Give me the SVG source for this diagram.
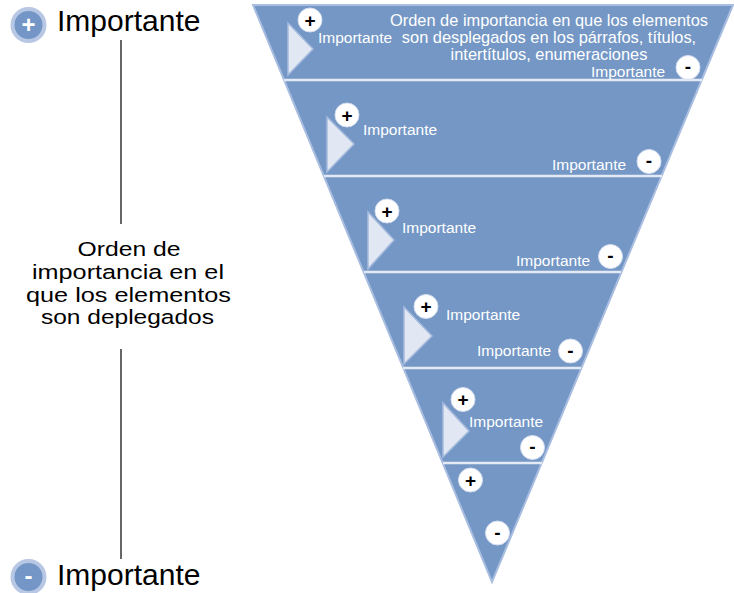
<svg xmlns="http://www.w3.org/2000/svg" width="734" height="593" viewBox="0 0 734 593">
<style>
.big{font-family:"Liberation Sans",Arial,sans-serif;font-size:30px;fill:#000}
.mid{font-family:"Liberation Sans",Arial,sans-serif;font-size:20.5px;fill:#000;text-anchor:middle}
.sm{font-family:"Liberation Sans",Arial,sans-serif;font-size:15.5px;fill:#fff}
.ttl{font-family:"Liberation Sans",Arial,sans-serif;font-size:16.4px;fill:#fff;text-anchor:middle}
.sym{font-family:"Liberation Sans",Arial,sans-serif;font-size:19px;font-weight:bold;fill:#000;text-anchor:middle}
.wsym{font-family:"Liberation Sans",Arial,sans-serif;font-size:24px;font-weight:bold;fill:#fff;text-anchor:middle}
.bc{fill:#7396c6;stroke:#b8c7e4;stroke-width:4}
.wc{fill:#fff;stroke:#d5def0;stroke-width:1}
.play{fill:#e2e8f3;stroke:#a6bbde;stroke-width:1.5}
.div{stroke:#e3eaf5;stroke-width:2.5}
.conn{stroke:#000;stroke-width:1.2}
</style>
<rect width="734" height="593" fill="#fff"/>
<g id="connectors">
<line class="conn" x1="121" y1="40" x2="121" y2="224"/>
<line class="conn" x1="121" y1="349" x2="121" y2="559"/>
</g>
<g id="top-label">
<circle class="bc" cx="28.5" cy="25" r="16"/>
<text class="wsym" x="28.5" y="33">+</text>
<text class="big" x="57" y="31">Importante</text>
</g>
<g id="center-label">
<text class="mid" x="129" y="256" textLength="103" lengthAdjust="spacingAndGlyphs">Orden de</text>
<text class="mid" x="128" y="279" textLength="192" lengthAdjust="spacingAndGlyphs">importancia en el</text>
<text class="mid" x="128.5" y="301.5" textLength="205" lengthAdjust="spacingAndGlyphs">que los elementos</text>
<text class="mid" x="127.5" y="324" textLength="173" lengthAdjust="spacingAndGlyphs">son deplegados</text>
</g>
<g id="bottom-label">
<circle class="bc" cx="28.5" cy="577" r="16"/>
<text class="wsym" x="28.5" y="584">-</text>
<text class="big" x="57" y="585">Importante</text>
</g>
<g id="pyramid">
<polygon points="253,5 733,5 492,582" fill="#7497c5" stroke="#a8bde0" stroke-width="2"/>
<line class="div" x1="284" y1="80" x2="702" y2="80"/>
<line class="div" x1="324" y1="176" x2="662" y2="176"/>
<line class="div" x1="364" y1="272" x2="621" y2="272"/>
<line class="div" x1="403" y1="368" x2="581" y2="368"/>
<line class="div" x1="443" y1="463" x2="542" y2="463"/>
</g>
<g id="section1">
<polygon class="play" points="288,23 288,75 313,49"/>
<circle class="wc" cx="310" cy="20" r="12"/>
<text class="sym" x="310" y="26.5">+</text>
<text class="sm" x="318" y="43">Importante</text>
<text class="ttl" x="549" y="26">Orden de importancia en que los elementos</text>
<text class="ttl" x="549" y="43">son desplegados en los párrafos, títulos,</text>
<text class="ttl" x="549" y="60">intertítulos, enumeraciones</text>
<text class="sm" x="591" y="77">Importante</text>
<circle class="wc" cx="688" cy="67.5" r="12"/>
<text class="sym" x="688" y="73">-</text>
</g>
<g id="section2">
<polygon class="play" points="327,117 327,172 354,144"/>
<circle class="wc" cx="347" cy="115" r="12"/>
<text class="sym" x="347" y="121.5">+</text>
<text class="sm" x="363" y="135">Importante</text>
<text class="sm" x="552" y="170">Importante</text>
<circle class="wc" cx="649" cy="161.5" r="12"/>
<text class="sym" x="649" y="167">-</text>
</g>
<g id="section3">
<polygon class="play" points="368,212 368,269 394,240"/>
<circle class="wc" cx="387" cy="211" r="12"/>
<text class="sym" x="387" y="217.5">+</text>
<text class="sm" x="402" y="233">Importante</text>
<text class="sm" x="516" y="266">Importante</text>
<circle class="wc" cx="610.5" cy="256.5" r="12"/>
<text class="sym" x="610.5" y="262">-</text>
</g>
<g id="section4">
<polygon class="play" points="404,307 404,364 432,336"/>
<circle class="wc" cx="426" cy="306.5" r="12"/>
<text class="sym" x="426" y="313">+</text>
<text class="sm" x="446" y="320">Importante</text>
<text class="sm" x="477" y="356">Importante</text>
<circle class="wc" cx="570.5" cy="351" r="12"/>
<text class="sym" x="570.5" y="356.5">-</text>
</g>
<g id="section5">
<polygon class="play" points="443,403 443,457 469,431"/>
<circle class="wc" cx="463" cy="399.5" r="12"/>
<text class="sym" x="463" y="406">+</text>
<text class="sm" x="469" y="427">Importante</text>
<circle class="wc" cx="532.5" cy="447.5" r="12"/>
<text class="sym" x="532.5" y="453">-</text>
</g>
<g id="section6">
<circle class="wc" cx="470.5" cy="480" r="12"/>
<text class="sym" x="470.5" y="486.5">+</text>
<circle class="wc" cx="497.5" cy="533" r="12"/>
<text class="sym" x="497.5" y="538.5">-</text>
</g>
</svg>
